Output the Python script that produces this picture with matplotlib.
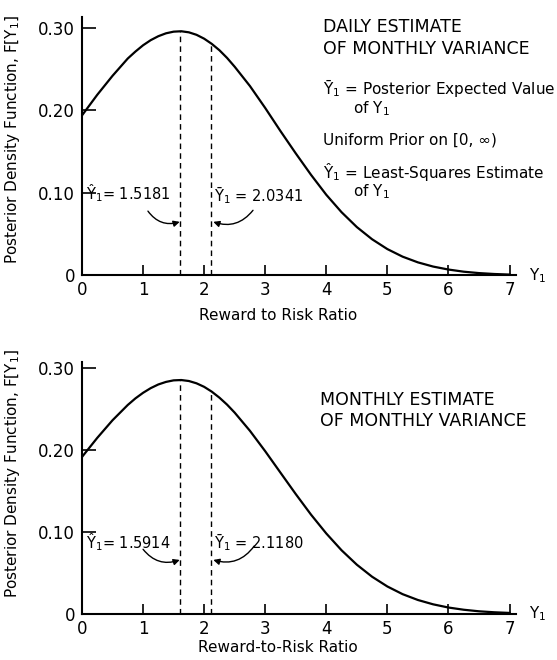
import numpy as np
import matplotlib.pyplot as plt

# ratio values where the curves were read (finer near the peak)
x_vals = [0, 0.25, 0.5, 0.75, 0.875, 1.0, 1.125, 1.25, 1.375, 1.5, 1.625, 1.75, 1.875,
          2.0, 2.125, 2.25, 2.375, 2.5, 2.75, 3.0, 3.25, 3.5, 3.75, 4.0, 4.25, 4.5,
          4.75, 5.0, 5.25, 5.5, 5.75, 6.0, 6.25, 6.5, 6.75, 7.0]

# daily estimate of monthly variance (top)
daily_density = [0.194, 0.219, 0.242, 0.263, 0.2714, 0.279, 0.2852, 0.290, 0.2935, 0.2955,
                 0.2960, 0.2947, 0.2917, 0.287, 0.2807, 0.273, 0.2637, 0.253, 0.2296, 0.203,
                 0.175, 0.148, 0.122, 0.0978, 0.0767, 0.0587, 0.0439, 0.0320, 0.0228, 0.0159,
                 0.0108, 0.0072, 0.0046, 0.0029, 0.0018, 0.0011]

# monthly estimate of monthly variance (bottom)
monthly_density = [0.1917, 0.215, 0.2365, 0.2552, 0.2632, 0.270, 0.2757, 0.2802, 0.2833, 0.2852,
                   0.2856, 0.2844, 0.2816, 0.2773, 0.2714, 0.2641, 0.2556, 0.2458, 0.2236, 0.1987,
                   0.1725, 0.1464, 0.1213, 0.0983, 0.0778, 0.0602, 0.0455, 0.0336, 0.0242, 0.0171,
                   0.0118, 0.0079, 0.0052, 0.0033, 0.0021, 0.0013]

# where the dashed lines sit in the drawing
daily_lines = [1.60, 2.12]
monthly_lines = [1.60, 2.12]

daily_labels = ["1.5181", "2.0341"]
monthly_labels = ["1.5914", "2.1180"]

x_ticks = [0, 1, 2, 3, 4, 5, 6, 7]
y_ticks = [0.10, 0.20, 0.30]
y_ticklabels = ["0.10", "0.20", "0.30"]

HAT = "\u0176$_1$"   # Y with circumflex
BAR = "\u0232$_1$"   # Y with macron


def style_axes(ax, ytop, xlabel):
    ax.set_xlim(0, 7.1)
    ax.set_ylim(0, ytop)
    for s in ["top", "right"]:
        ax.spines[s].set_visible(False)
    for s in ["left", "bottom"]:
        ax.spines[s].set_linewidth(1.5)
    ax.set_xticks(x_ticks)
    ax.set_xticklabels([str(t) for t in x_ticks], fontsize=12)
    ax.set_yticks([0] + y_ticks)
    ax.set_yticklabels(["0"] + y_ticklabels, fontsize=12)
    ax.tick_params(axis="x", direction="in", length=7, width=1.2, pad=4)
    ax.tick_params(axis="y", direction="in", length=10, width=1.2, pad=5)
    ax.set_xlabel(xlabel, fontsize=11)
    ax.set_ylabel("Posterior Density Function, F[Y$_1$]", fontsize=11)
    ax.text(7.32, 0.0, "Y$_1$", fontsize=11, va="center", ha="left", clip_on=False)


def draw_panel(ax, dens, lines, labels, lab_y, tip_y, tails):
    ax.plot(x_vals, dens, color="black", lw=1.6, solid_joinstyle="round")
    for xl in lines:
        ax.plot([xl, xl], [0, np.interp(xl, x_vals, dens)], color="black",
                lw=1, linestyle=(0, (4, 3)))
    ax.text(0.06, lab_y[0], HAT + "= " + labels[0], fontsize=10.5, va="center", ha="left")
    ax.text(2.16, lab_y[1], BAR + " = " + labels[1], fontsize=10.5, va="center", ha="left")
    ax.annotate("", xy=(lines[0], tip_y), xytext=tails[0],
                arrowprops=dict(arrowstyle="-|>", color="black", lw=1,
                                connectionstyle="arc3,rad=0.35", mutation_scale=9,
                                shrinkA=0, shrinkB=0))
    ax.annotate("", xy=(lines[1] + 0.03, tip_y), xytext=tails[1],
                arrowprops=dict(arrowstyle="-|>", color="black", lw=1,
                                connectionstyle="arc3,rad=-0.35", mutation_scale=9,
                                shrinkA=0, shrinkB=0))


fig = plt.figure(figsize=(5.57, 6.6), dpi=100)
ax1 = fig.add_axes([0.1472, 0.5826, 0.7785, 0.3913])
ax2 = fig.add_axes([0.1472, 0.0697, 0.7785, 0.3823])

# top panel
style_axes(ax1, 0.313, "Reward to Risk Ratio")
ax1.yaxis.set_label_coords(-0.138, 0.525)
ax1.xaxis.set_label_coords(0.452, -0.125)
draw_panel(ax1, daily_density, daily_lines, daily_labels, [0.100, 0.097], 0.065,
           [(1.08, 0.078), (2.80, 0.079)])
ax1.text(3.94, 0.301, "DAILY ESTIMATE", fontsize=12.5, va="center")
ax1.text(3.94, 0.275, "OF MONTHLY VARIANCE", fontsize=12.5, va="center")
ax1.text(3.94, 0.227, BAR + " = Posterior Expected Value", fontsize=11, va="center")
ax1.text(4.43, 0.202, "of Y$_1$", fontsize=11, va="center")
ax1.text(3.94, 0.164, "Uniform Prior on [0, \u221e)", fontsize=11, va="center")
ax1.text(3.94, 0.125, HAT + " = Least-Squares Estimate", fontsize=11, va="center")
ax1.text(4.43, 0.101, "of Y$_1$", fontsize=11, va="center")

# bottom panel
style_axes(ax2, 0.308, "Reward-to-Risk Ratio")
ax2.yaxis.set_label_coords(-0.138, 0.557)
ax2.xaxis.set_label_coords(0.452, -0.105)
draw_panel(ax2, monthly_density, monthly_lines, monthly_labels, [0.088, 0.088], 0.066,
           [(1.00, 0.079), (2.82, 0.083)])
ax2.text(3.90, 0.261, "MONTHLY ESTIMATE", fontsize=12.5, va="center")
ax2.text(3.90, 0.235, "OF MONTHLY VARIANCE", fontsize=12.5, va="center")

fig.savefig("out.png", dpi=100)
